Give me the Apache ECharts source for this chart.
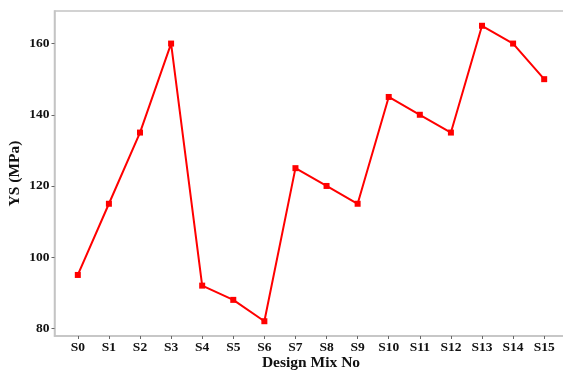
<!DOCTYPE html>
<html>
<head>
<meta charset="utf-8">
<script src="https://cdn.jsdelivr.net/npm/echarts@6/dist/echarts.min.js"></script>
<style>html,body{margin:0;padding:0;background:#fff;}#c{width:563px;height:374px;}</style>
</head>
<body>
<div id="c"></div>
<script>
const categories = ['S0','S1','S2','S3','S4','S5','S6','S7','S8','S9','S10','S11','S12','S13','S14','S15'];
const ysValues = [95,115,135,160,92,88,82,125,120,115,145,140,135,165,160,150];
const yTicks = [80,100,120,140,160];

const font = '"Liberation Serif","Times New Roman",serif';
const chart = echarts.init(document.getElementById('c'), null, {renderer:'canvas'});
const xIdx = categories.map((_, i) => i);
chart.setOption({
  animation: false,
  backgroundColor: '#fff',
  grid: {left: 54.5, top: 11, width: 513, height: 325, outerBoundsMode: 'none', containLabel: false, show: true, borderColor: '#c4c4c4', borderWidth: 1.5, backgroundColor: 'transparent'},
  xAxis: {
    type: 'value', min: -0.75, max: 15.75,
    name: 'Design Mix No', nameLocation: 'middle', nameGap: 19, nameMoveOverlap: false,
    nameTextStyle: {fontFamily: font, fontWeight: 'bold', fontSize: 15.5, color: '#111'},
    axisLine: {show: true, onZero: false, lineStyle: {color: '#c4c4c4', width: 1.5}},
    axisTick: {show: true, length: 3, lineStyle: {color: '#666'}, customValues: xIdx},
    axisLabel: {customValues: xIdx, formatter: v => categories[Math.round(v)], fontFamily: font, fontWeight: 'bold', fontSize: 13.5, color: '#111', margin: 5},
    splitLine: {show: false}
  },
  yAxis: {
    type: 'value', min: 77.85, max: 169.15,
    name: 'YS (MPa)', nameLocation: 'middle', nameGap: 32, nameMoveOverlap: false,
    nameTextStyle: {fontFamily: font, fontWeight: 'bold', fontSize: 15.5, color: '#111'},
    axisLine: {show: true, onZero: false, lineStyle: {color: '#c4c4c4', width: 1.5}},
    axisTick: {show: true, length: 3, lineStyle: {color: '#666'}, customValues: yTicks},
    axisLabel: {customValues: yTicks, fontFamily: font, fontWeight: 'bold', fontSize: 13.5, color: '#111', margin: 5},
    splitLine: {show: false}
  },
  series: [{
    type: 'line',
    data: ysValues.map((v, i) => [i, v]),
    symbol: 'rect', symbolSize: 6,
    lineStyle: {color: '#ff0000', width: 2},
    itemStyle: {color: '#ff0000'}
  }]
});
</script>
</body>
</html>
